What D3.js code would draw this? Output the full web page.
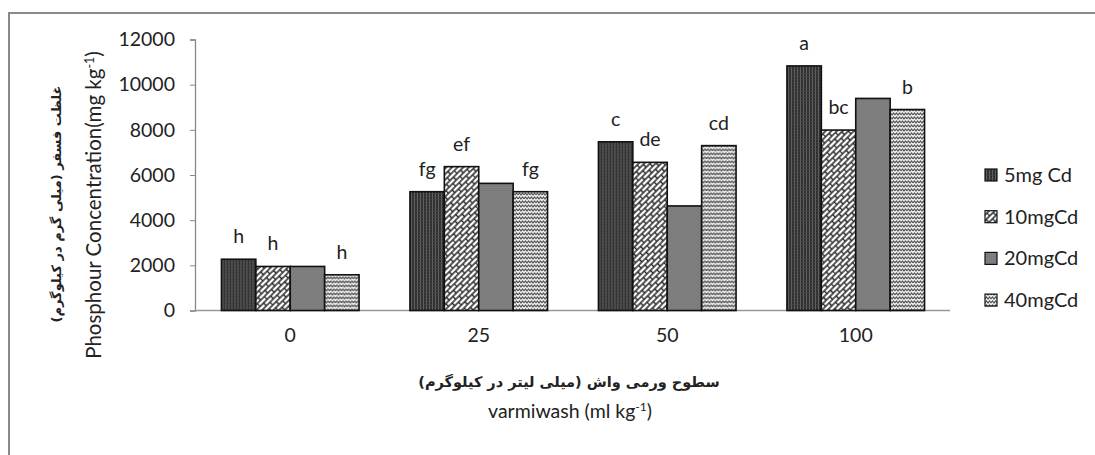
<!DOCTYPE html>
<html>
<head>
<meta charset="utf-8">
<script src="https://cdn.jsdelivr.net/npm/d3@7"></script>
<style>
  html, body { margin: 0; padding: 0; background: #fff; }
  svg { display: block; }
</style>
</head>
<body>
<div id="chart"></div>
<script>
// ---------- data ----------
const categories = ["0", "25", "50", "100"];
const seriesNames = ["5mg Cd", "10mgCd", "20mgCd", "40mgCd"];
const values5mg  = [2270, 5260, 7470, 10830];
const values10mg = [1950, 6370, 6560, 7990];
const values20mg = [1950, 5630, 4630, 9390];
const values40mg = [1580, 5260, 7300, 8900];
const letters5mg  = ["h", "fg", "c", "a"];
const letters10mg = ["h", "ef", "de", "bc"];
const letters20mg = ["", "", "", ""];
const letters40mg = ["h", "fg", "cd", "b"];
const yTicks = [0, 2000, 4000, 6000, 8000, 10000, 12000];

const seriesValues = [values5mg, values10mg, values20mg, values40mg];
const seriesLetters = [letters5mg, letters10mg, letters20mg, letters40mg];
const patternIds = ["p5", "p10", "p20", "p40"];

const W = 1095, H = 455;
const FONT = "Lato, 'Open Sans', sans-serif";

const svg = d3.select("#chart").append("svg")
  .attr("width", W).attr("height", H);

// ---------- patterns ----------
const defs = svg.append("defs");
const p5 = defs.append("pattern").attr("id", "p5").attr("patternUnits", "userSpaceOnUse")
  .attr("width", 3).attr("height", 3);
p5.append("rect").attr("width", 3).attr("height", 3).attr("fill", "#2e2e2e");
p5.append("rect").attr("x", 1).attr("width", 1).attr("height", 3).attr("fill", "#666");
p5.append("rect").attr("y", 1).attr("width", 3).attr("height", 0.6).attr("fill", "#474747");
const p10 = defs.append("pattern").attr("id", "p10").attr("patternUnits", "userSpaceOnUse")
  .attr("width", 10).attr("height", 8).attr("patternTransform", "rotate(-45)");
p10.append("rect").attr("width", 10).attr("height", 8).attr("fill", "#ffffff");
p10.append("path")
  .attr("d", "M0,0 H10 M0,4 H10 M0,8 H10 M0.5,0 V4 M5.5,4 V8")
  .attr("stroke", "#262626").attr("stroke-width", 1.5).attr("fill", "none");
const p20 = defs.append("pattern").attr("id", "p20").attr("patternUnits", "userSpaceOnUse")
  .attr("width", 2).attr("height", 2);
p20.append("rect").attr("width", 2).attr("height", 2).attr("fill", "#808080");
p20.append("rect").attr("width", 1).attr("height", 1).attr("fill", "#767676");
const p40 = defs.append("pattern").attr("id", "p40").attr("patternUnits", "userSpaceOnUse")
  .attr("width", 6).attr("height", 4);
p40.append("rect").attr("width", 6).attr("height", 4).attr("fill", "#efefef");
p40.append("path").attr("d", "M0,3 L1.5,1 L3,3 L4.5,1 L6,3")
  .attr("stroke", "#505050").attr("stroke-width", 1.1).attr("fill", "none");

// ---------- outer frame (only top and left visible) ----------
svg.append("path").attr("d", `M9,${H} V13 H${W}`)
  .attr("fill", "none").attr("stroke", "#8a8a8a").attr("stroke-width", 2);

// ---------- scales ----------
const y = d3.scaleLinear().domain([0, 12000]).range([310.5, 39.5]);
const x0 = d3.scaleBand().domain(categories).range([196, 950])
  .paddingInner(0.27).paddingOuter(0.135);
const x1 = d3.scaleBand().domain(seriesNames).range([0, x0.bandwidth()]).padding(0);

// ---------- axes ----------
const yAxis = svg.append("g").attr("transform", "translate(195,0)")
  .call(d3.axisLeft(y).tickValues(yTicks).tickSize(5).tickPadding(15).tickFormat(d3.format("d")));
yAxis.select(".domain").attr("stroke", "#888").attr("stroke-width", 1.3);
yAxis.selectAll(".tick line").attr("stroke", "#888");
yAxis.selectAll(".tick text").attr("font-family", FONT).attr("font-size", 19.5).attr("fill", "#222");

const xAxis = svg.append("g").attr("transform", "translate(0,310.5)")
  .call(d3.axisBottom(x0).tickSize(0).tickPadding(18));
xAxis.select(".domain").attr("d", "M195,0 H950").attr("stroke", "#999").attr("stroke-width", 1.5);
xAxis.selectAll(".tick text").attr("font-family", FONT).attr("font-size", 19.5).attr("fill", "#222");

// ---------- bars ----------
const groups = svg.append("g").selectAll("g").data(categories).join("g")
  .attr("transform", d => `translate(${x0(d)},0)`);

groups.each(function(cat, ci) {
  const g = d3.select(this);
  seriesNames.forEach((s, si) => {
    const v = seriesValues[si][ci];
    g.append("rect")
      .attr("x", x1(s)).attr("width", x1.bandwidth())
      .attr("y", y(v)).attr("height", y(0) - y(v))
      .attr("fill", `url(#${patternIds[si]})`)
      .attr("stroke", "#111").attr("stroke-width", 1.6);
    const lab = seriesLetters[si][ci];
    if (lab) {
      g.append("text")
        .attr("x", x1(s) + x1.bandwidth() / 2)
        .attr("y", y(v) - 16)
        .attr("text-anchor", "middle")
        .attr("font-family", FONT).attr("font-size", 19.5).attr("fill", "#222")
        .text(lab);
    }
  });
});

// ---------- legend ----------
const legend = svg.append("g").attr("transform", "translate(985,0)");
seriesNames.forEach((s, i) => {
  const cy = 175 + i * 41.7;
  legend.append("rect").attr("x", 0).attr("y", cy - 6).attr("width", 12).attr("height", 12)
    .attr("fill", `url(#${patternIds[i]})`).attr("stroke", "#111").attr("stroke-width", 1.2);
  legend.append("text").attr("x", 19).attr("y", cy).attr("dy", "0.35em")
    .attr("font-family", FONT).attr("font-size", 20).attr("fill", "#222").text(s);
});

// ---------- axis titles ----------
const xt = svg.append("text").attr("x", 570).attr("y", 418)
  .attr("text-anchor", "middle").attr("font-family", FONT).attr("font-size", 19.5).attr("fill", "#222");
xt.append("tspan").text("varmiwash (ml kg");
xt.append("tspan").attr("font-size", 12).attr("baseline-shift", "super").text("-1");
xt.append("tspan").text(")");

svg.append("text").attr("x", 569).attr("y", 387)
  .attr("text-anchor", "middle").attr("direction", "rtl")
  .attr("font-family", "'DejaVu Sans', sans-serif").attr("font-weight", "bold")
  .attr("font-size", 14.5).attr("fill", "#222")
  .text("سطوح ورمی واش (میلی لیتر در کیلوگرم)");

const yt = svg.append("text").attr("transform", "translate(101,205) rotate(-90)")
  .attr("text-anchor", "middle").attr("font-family", FONT).attr("font-size", 20.5).attr("fill", "#222");
yt.append("tspan").text("Phosphour Concentration(mg kg");
yt.append("tspan").attr("font-size", 12.5).attr("baseline-shift", "super").text("-1");
yt.append("tspan").text(")");

svg.append("text").attr("transform", "translate(61,204) rotate(-90)")
  .attr("text-anchor", "middle").attr("direction", "rtl")
  .attr("font-family", "'DejaVu Sans', sans-serif").attr("font-weight", "bold")
  .attr("font-size", 13).attr("fill", "#222")
  .text("غلظت فسفر (میلی گرم در کیلوگرم)");
</script>
</body>
</html>
